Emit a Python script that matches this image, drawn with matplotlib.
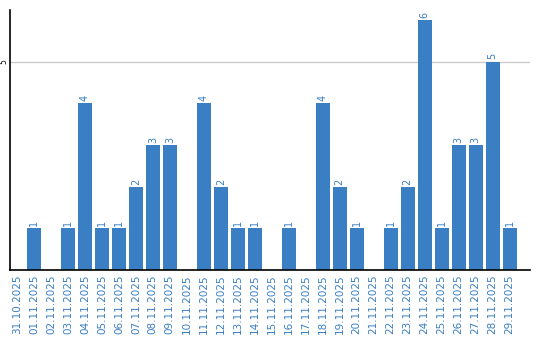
import matplotlib
matplotlib.use('Agg')
import matplotlib.pyplot as plt

# Datas e contagens
datas = ['31.10.2025', '01.11.2025', '02.11.2025', '03.11.2025', '04.11.2025',
         '05.11.2025', '06.11.2025', '07.11.2025', '08.11.2025', '09.11.2025',
         '10.11.2025', '11.11.2025', '12.11.2025', '13.11.2025', '14.11.2025',
         '15.11.2025', '16.11.2025', '17.11.2025', '18.11.2025', '19.11.2025',
         '20.11.2025', '21.11.2025', '22.11.2025', '23.11.2025', '24.11.2025',
         '25.11.2025', '26.11.2025', '27.11.2025', '28.11.2025', '29.11.2025']
valores = [0, 1, 0, 1, 4, 1, 1, 2, 3, 3,
           0, 4, 2, 1, 1, 0, 1, 0, 4, 2,
           1, 0, 1, 2, 6, 1, 3, 3, 5, 1]

azul = '#3a7ec3'

fig = plt.figure(figsize=(5.4, 3.4), dpi=100)
ax = fig.add_axes([0.0185, 0.206, 0.963, 0.765])

pos = list(range(len(datas)))
ax.bar(pos, valores, width=0.82, color=azul, zorder=2)

# Rótulos de valor acima das barras
for x, v in zip(pos, valores):
    if v > 0:
        ax.text(x, v + 0.05, str(v), rotation=90, ha='center', va='bottom',
                color=azul, fontsize=7)

ax.set_xlim(-0.41, 30.2)
ax.set_ylim(0, 6.24)
ax.set_xticks(pos)
ax.set_xticklabels(datas, rotation=90, color=azul, fontsize=7.5)
ax.set_yticks([5])
ax.set_yticklabels(['5'], rotation=90, va='center', fontsize=5.5)
ax.tick_params(axis='both', length=0, pad=3)
ax.tick_params(axis='y', pad=1)
ax.grid(axis='y', color='#cccccc', linewidth=1, zorder=0)

for s in ['top', 'right']:
    ax.spines[s].set_visible(False)
ax.spines['left'].set_linewidth(1.2)
ax.spines['bottom'].set_linewidth(1.2)

fig.savefig('out.png', dpi=100)
